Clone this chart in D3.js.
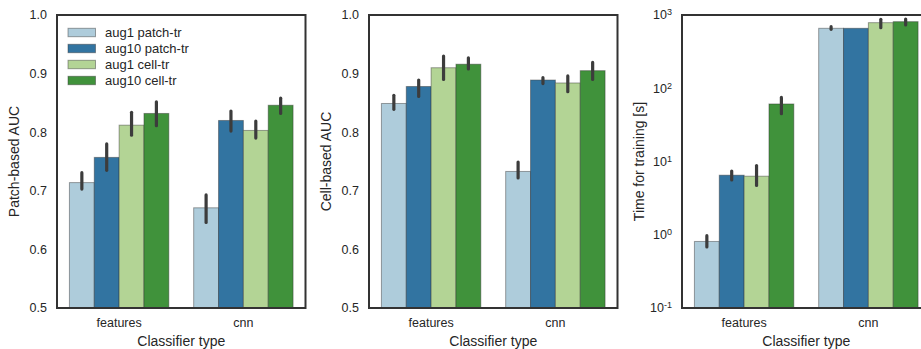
<!DOCTYPE html>
<html>
<head>
<meta charset="utf-8">
<script src="https://cdn.jsdelivr.net/npm/d3@7"></script>
<style>
  body { margin: 0; background: #fff; }
  text { font-family: "Liberation Sans", Arial, sans-serif; fill: #262626; }
</style>
</head>
<body>
<div id="chart"></div>
<script>
const categories = ['features', 'cnn'];
const hues = ['aug1 patch-tr', 'aug10 patch-tr', 'aug1 cell-tr', 'aug10 cell-tr'];
const baseColors = ['#a6cee3', '#1f78b4', '#b2df8a', '#33a02c'];

// rows: category, columns: hue
const patchAuc = [[0.714, 0.757, 0.812, 0.832], [0.671, 0.820, 0.803, 0.846]];
const patchAucCi = [
  [[0.703, 0.731], [0.735, 0.780], [0.795, 0.834], [0.811, 0.852]],
  [[0.646, 0.693], [0.802, 0.836], [0.790, 0.819], [0.832, 0.858]]
];
const cellAuc = [[0.849, 0.878, 0.910, 0.916], [0.733, 0.889, 0.884, 0.905]];
const cellAucCi = [
  [[0.839, 0.863], [0.861, 0.889], [0.890, 0.930], [0.908, 0.927]],
  [[0.722, 0.749], [0.883, 0.893], [0.869, 0.896], [0.890, 0.919]]
];
const trainTime = [[0.81, 6.5, 6.3, 61], [658, 658, 786, 811]];
const trainTimeCi = [
  [[0.68, 0.97], [5.6, 7.4], [4.7, 8.8], [45, 75]],
  [[637, 692], null, [671, 873], [730, 881]]
];
const aucTicks = [0.5, 0.6, 0.7, 0.8, 0.9, 1.0];
const logTicks = [-1, 0, 1, 2, 3];

const width = 921, height = 349;
const plotTop = 15, plotBottom = 308, panelW = 248.5;
const panelLeft = [57, 369, 682];

// seaborn-style desaturation (0.75)
const colors = baseColors.map(c => {
  const h = d3.hsl(c);
  h.s *= 0.75;
  return h.formatHex();
});

const svg = d3.select('#chart').append('svg')
    .attr('width', width)
    .attr('height', height);

const x = d3.scaleBand().domain(categories).range([0, panelW]);
const xh = d3.scaleBand().domain(hues)
    .range([x.bandwidth() * 0.1, x.bandwidth() * 0.9]);

function drawPanel(i, values, cis, y, yLabel, tickFn) {
  const g = svg.append('g')
      .attr('transform', 'translate(' + panelLeft[i] + ',0)');
  const y0 = y.range()[0];

  categories.forEach((cat, ci) => {
    hues.forEach((hue, hi) => {
      const v = values[ci][hi];
      g.append('rect')
          .attr('x', x(cat) + xh(hue))
          .attr('y', y(v))
          .attr('width', xh.bandwidth())
          .attr('height', y0 - y(v))
          .attr('fill', colors[hi])
          .attr('stroke', '#333')
          .attr('stroke-opacity', 0.45)
          .attr('stroke-width', 1);
    });
  });

  categories.forEach((cat, ci) => {
    hues.forEach((hue, hi) => {
      const c = cis[ci][hi];
      if (!c) return;
      const cx = x(cat) + xh(hue) + xh.bandwidth() / 2;
      g.append('line')
          .attr('x1', cx).attr('x2', cx)
          .attr('y1', y(c[0])).attr('y2', y(c[1]))
          .attr('stroke', '#3c3c3c')
          .attr('stroke-width', 3.2)
          .attr('stroke-linecap', 'round');
    });
  });

  // spines
  g.append('rect')
      .attr('x', 0).attr('y', plotTop)
      .attr('width', panelW).attr('height', plotBottom - plotTop)
      .attr('fill', 'none')
      .attr('stroke', '#333')
      .attr('stroke-width', 2);

  // y ticks
  tickFn(g, y);

  // x ticks
  categories.forEach(cat => {
    g.append('text')
        .attr('x', x(cat) + x.bandwidth() / 2)
        .attr('y', 326.5)
        .attr('text-anchor', 'middle')
        .style('font-size', '12.5px')
        .text(cat);
  });

  g.append('text')
      .attr('x', panelW / 2)
      .attr('y', 346)
      .attr('text-anchor', 'middle')
      .style('font-size', '14px')
      .text('Classifier type');

  g.append('text')
      .attr('transform', 'translate(' + (-38) + ',' + ((plotTop + plotBottom) / 2) + ') rotate(-90)')
      .attr('text-anchor', 'middle')
      .style('font-size', '14px')
      .text(yLabel);

  return g;
}

function linearTicks(g, y) {
  aucTicks.forEach(t => {
    g.append('text')
        .attr('x', -10)
        .attr('y', y(t))
        .attr('dy', '0.35em')
        .attr('text-anchor', 'end')
        .style('font-size', '12.5px')
        .text(d3.format('.1f')(t));
  });
}

function logTickLabels(g, y) {
  logTicks.forEach(t => {
    const txt = g.append('text')
        .attr('x', -10)
        .attr('y', y(Math.pow(10, t)))
        .attr('dy', '0.35em')
        .attr('text-anchor', 'end')
        .style('font-size', '12.5px');
    txt.append('tspan').text('10');
    txt.append('tspan')
        .attr('dy', '-0.45em')
        .style('font-size', '9px')
        .text(t);
  });
}

const yAuc = d3.scaleLinear().domain([0.5, 1.0]).range([plotBottom, plotTop]);
const yLog = d3.scaleLog().domain([0.1, 1000]).range([plotBottom, plotTop]);

const p1 = drawPanel(0, patchAuc, patchAucCi, yAuc, 'Patch-based AUC', linearTicks);
drawPanel(1, cellAuc, cellAucCi, yAuc, 'Cell-based AUC', linearTicks);
drawPanel(2, trainTime, trainTimeCi, yLog, 'Time for training [s]', logTickLabels);

// legend
const legend = p1.append('g').attr('transform', 'translate(11,32.5)');
hues.forEach((hue, hi) => {
  const row = legend.append('g').attr('transform', 'translate(0,' + hi * 16 + ')');
  row.append('rect')
      .attr('x', 0).attr('y', -4.2)
      .attr('width', 27.5).attr('height', 8.4)
      .attr('fill', colors[hi])
      .attr('stroke', '#333')
      .attr('stroke-opacity', 0.45)
      .attr('stroke-width', 1);
  row.append('text')
      .attr('x', 37)
      .attr('y', 0)
      .attr('dy', '0.35em')
      .style('font-size', '13px')
      .text(hue);
});
</script>
</body>
</html>
